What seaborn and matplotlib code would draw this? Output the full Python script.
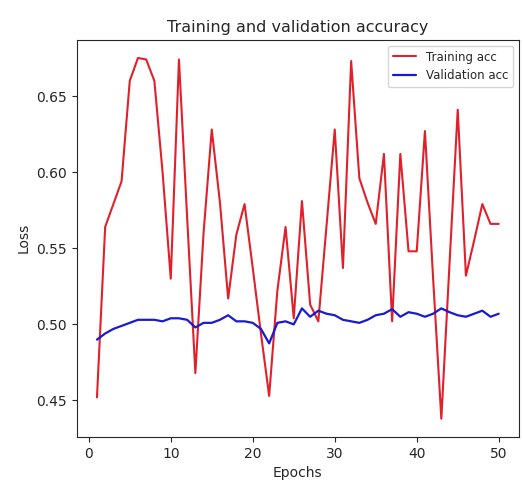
import numpy as np
import pandas as pd
import matplotlib
matplotlib.use("Agg")
import matplotlib.pyplot as plt
import seaborn as sns

# values
epochs = list(range(1, 51))
train_acc = [0.452, 0.564, 0.579, 0.594, 0.660, 0.675, 0.674, 0.660, 0.600, 0.530,
             0.674, 0.570, 0.468, 0.560, 0.628, 0.580, 0.517, 0.559, 0.579, 0.537,
             0.494, 0.453, 0.522, 0.564, 0.504, 0.581, 0.513, 0.502, 0.565, 0.628,
             0.537, 0.673, 0.596, 0.580, 0.566, 0.612, 0.502, 0.612, 0.548, 0.548,
             0.627, 0.530, 0.438, 0.540, 0.641, 0.532, 0.555, 0.579, 0.566, 0.566]
val_acc = [0.490, 0.494, 0.497, 0.499, 0.501, 0.503, 0.503, 0.503, 0.502, 0.504,
           0.504, 0.503, 0.498, 0.501, 0.501, 0.503, 0.506, 0.502, 0.502, 0.501,
           0.497, 0.4875, 0.501, 0.502, 0.500, 0.5105, 0.505, 0.509, 0.507, 0.506,
           0.503, 0.502, 0.501, 0.503, 0.506, 0.507, 0.510, 0.505, 0.508, 0.507,
           0.505, 0.507, 0.5105, 0.508, 0.506, 0.505, 0.507, 0.509, 0.505, 0.507]

df = pd.DataFrame({"epoch": epochs, "train": train_acc, "val": val_acc})

sns.set_style("ticks")
plt.rcParams['font.family'] = ['DejaVu Sans']

fig, ax = plt.subplots(figsize=(5.23, 4.93), dpi=100)
sns.lineplot(data=df, x="epoch", y="train", color="#e0202a", label="Training acc", ax=ax, linewidth=1.5)
sns.lineplot(data=df, x="epoch", y="val", color="#1a1ad0", label="Validation acc", ax=ax, linewidth=1.6)

ax.set_title("Training and validation accuracy", fontsize=11.5)
ax.set_xlabel("Epochs")
ax.set_ylabel("Loss")
ax.set_xticks([0, 10, 20, 30, 40, 50])
ax.set_yticks([0.45, 0.50, 0.55, 0.60, 0.65])
ax.legend(loc="upper right", fontsize=8.5)

fig.subplots_adjust(left=0.147, right=0.992, bottom=0.114, top=0.919)
fig.savefig("out.png", dpi=100)
